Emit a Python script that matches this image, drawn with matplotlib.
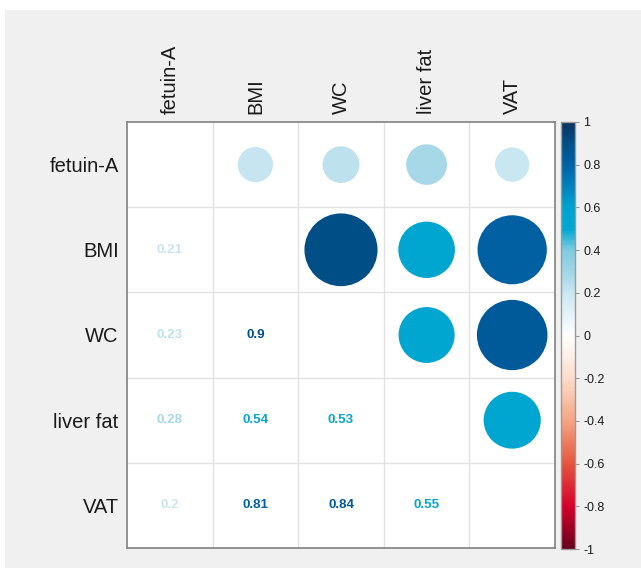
import matplotlib
matplotlib.use('Agg')
import matplotlib.pyplot as plt
from matplotlib.colors import LinearSegmentedColormap, Normalize
from matplotlib.cm import ScalarMappable
from matplotlib.patches import Circle, Rectangle
import numpy as np

plt.rcParams['font.family'] = ['Liberation Sans', 'DejaVu Sans']

labels = ['fetuin-A', 'BMI', 'WC', 'liver fat', 'VAT']
corr = [
    [1.00, 0.21, 0.23, 0.28, 0.20],
    [0.21, 1.00, 0.90, 0.54, 0.81],
    [0.23, 0.90, 1.00, 0.53, 0.84],
    [0.28, 0.54, 0.53, 1.00, 0.55],
    [0.20, 0.81, 0.84, 0.55, 1.00],
]
cbar_ticks = [-1, -0.8, -0.6, -0.4, -0.2, 0, 0.2, 0.4, 0.6, 0.8, 1]
cbar_ticklabels = ['-1', '-0.8', '-0.6', '-0.4', '-0.2', '0', '0.2', '0.4', '0.6', '0.8', '1']

anchors = [
    (-1.0, '#67001f'), (-0.8, '#d6002a'), (-0.6, '#e6553f'), (-0.4, '#f4a582'),
    (-0.2, '#fcdccb'), (0.0, '#ffffff'), (0.2, '#cae7f1'), (0.28, '#a6d8e8'),
    (0.4, '#80cbe1'), (0.5, '#00a6d0'), (0.6, '#00a3cf'), (0.8, '#0062a6'),
    (0.9, '#004f87'), (1.0, '#0a3262'),
]
cmap = LinearSegmentedColormap.from_list('corr', [((v + 1) / 2, c) for v, c in anchors], N=512)
norm = Normalize(-1, 1)

W, H = 641, 568
fig = plt.figure(figsize=(W / 100, H / 100), dpi=100, facecolor='white')
fig.patches.append(Rectangle((5 / W, 0), 1 - 5 / W, 558 / H, transform=fig.transFigure,
                             facecolor='#f0f0f0', edgecolor='none', zorder=-10))

ax = fig.add_axes([127 / W, 20 / H, 428 / W, 426 / H])
ax.set_facecolor('white')
n = len(labels)
ax.set_xlim(0, n)
ax.set_ylim(n, 0)

for k in range(1, n):
    ax.axvline(k, color='#e2e2e2', lw=1, zorder=1)
    ax.axhline(k, color='#e2e2e2', lw=1, zorder=1)

for i in range(n):
    for j in range(n):
        r = corr[i][j]
        if j > i:
            ax.add_patch(Circle((j + 0.5, i + 0.5), 0.45 * np.sqrt(abs(r)),
                                facecolor=cmap(norm(r)), edgecolor='none', zorder=2))
        elif j < i:
            ax.text(j + 0.5, i + 0.5, f'{r:g}', ha='center', va='center',
                    fontsize=9.6, fontweight='bold', color=cmap(norm(r)), zorder=3)

ax.set_xticks(np.arange(n) + 0.5)
ax.set_xticklabels(labels, rotation=90, fontsize=14.5, color='#1a1a1a')
ax.set_yticks(np.arange(n) + 0.5)
ax.set_yticklabels(labels, fontsize=14.5, color='#1a1a1a')
ax.xaxis.tick_top()
ax.tick_params(length=0, pad=6)
for s in ax.spines.values():
    s.set_color('#808080')
    s.set_linewidth(1.2)

cax = fig.add_axes([561 / W, 19 / H, 14 / W, 427 / H])
cb = fig.colorbar(ScalarMappable(norm=norm, cmap=cmap), cax=cax, ticks=cbar_ticks)
cb.set_ticklabels(cbar_ticklabels)
cb.outline.set_edgecolor('#9a9a9a')
cb.outline.set_linewidth(1)
cax.tick_params(length=3, width=0.8, color='#9a9a9a', labelsize=9, pad=3, labelcolor='#1a1a1a')

fig.savefig('out.png', dpi=100, facecolor=fig.get_facecolor())
